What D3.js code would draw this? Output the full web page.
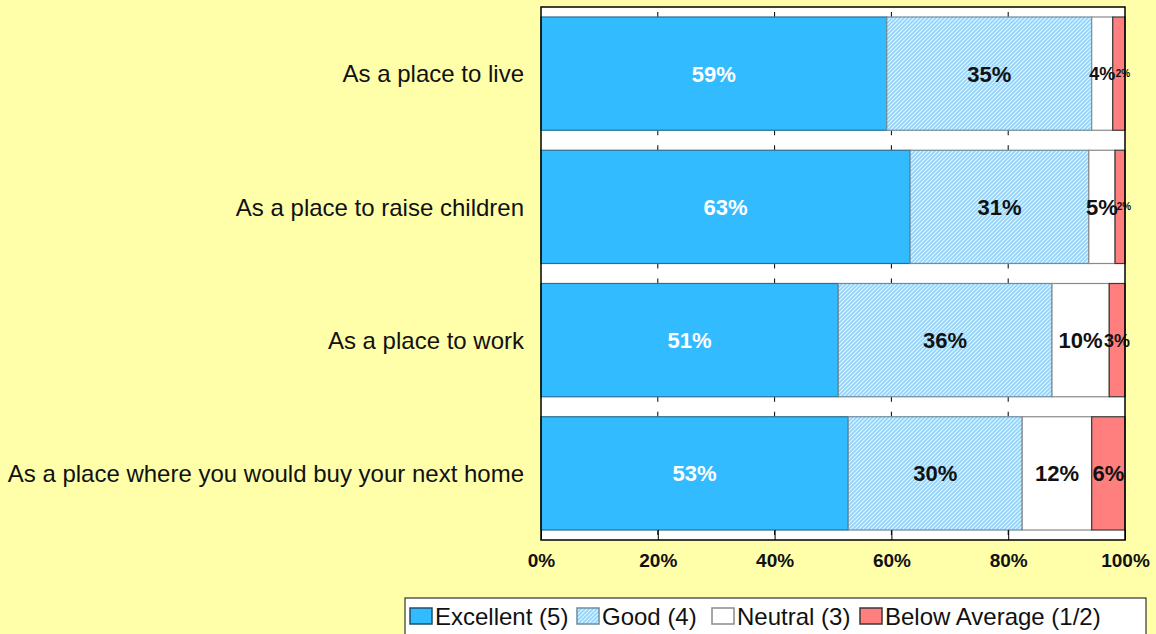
<!DOCTYPE html>
<html>
<head>
<meta charset="utf-8">
<script src="https://cdn.jsdelivr.net/npm/d3@7"></script>
<style>
  body { margin: 0; background: #FFFFAA; }
  svg { display: block; font-family: "Liberation Sans", Arial, sans-serif; }
</style>
</head>
<body>
<div id="chart-area"></div>
<script>
// Data
var categories = ["As a place to live", "As a place to raise children",
                  "As a place to work", "As a place where you would buy your next home"];
var seriesNames = ["Excellent (5)", "Good (4)", "Neutral (3)", "Below Average (1/2)"];
var excellent = [59.2, 63.2, 50.9, 52.6];
var good      = [35.1, 30.6, 36.6, 29.8];
var neutral   = [3.6, 4.5, 9.8, 11.9];
var below     = [2.1, 1.7, 2.7, 5.7];
var labelsExcellent = ["59%", "63%", "51%", "53%"];
var labelsGood      = ["35%", "31%", "36%", "30%"];
var labelsNeutral   = ["4%", "5%", "10%", "12%"];
var labelsBelow     = ["2%", "2%", "3%", "6%"];
var xTicks = [0, 20, 40, 60, 80, 100];

var width = 1156, height = 634;
var plot = { left: 541, right: 1125, top: 7, bottom: 540 };

var svg = d3.select("#chart-area")
    .append("svg")
    .attr("width", width)
    .attr("height", height);

svg.append("rect")
    .attr("width", width).attr("height", height)
    .attr("fill", "#FFFFAA");

// hatch for "Good"
var defs = svg.append("defs");
var pat = defs.append("pattern")
    .attr("id", "hatch")
    .attr("patternUnits", "userSpaceOnUse")
    .attr("width", 4).attr("height", 4);
pat.append("rect").attr("width", 4).attr("height", 4).attr("fill", "#93D3F8");
pat.append("path")
    .attr("d", "M-1,1 l2,-2 M0,4 l4,-4 M3,5 l2,-2")
    .attr("stroke", "#E4F5FF").attr("stroke-width", 1.2);

var colors = ["#33BBFF", "url(#hatch)", "#FFFFFF", "#FF7F7F"];
var strokes = ["#2B6E92", "#6F8C9C", "#8A8A8A", "#3A3A3A"];
var textColors = ["#FFFFFF", "#111111", "#111111", "#111111"];

// Scales
var x = d3.scaleLinear().domain([0, 100]).range([plot.left, plot.right]);
var y = d3.scaleBand()
    .domain(categories)
    .range([plot.top, plot.bottom])
    .paddingInner(0.15)
    .paddingOuter(0.075);

// plot area
svg.append("rect")
    .attr("x", plot.left).attr("y", plot.top)
    .attr("width", plot.right - plot.left)
    .attr("height", plot.bottom - plot.top)
    .attr("fill", "#FFFFFF");

// short tick marks in the gaps between bars
xTicks.slice(1, -1).forEach(function(t) {
    categories.forEach(function(c) {
        svg.append("line")
            .attr("x1", x(t)).attr("x2", x(t))
            .attr("y1", y(c) - 5).attr("y2", y(c))
            .attr("stroke", "#000");
        svg.append("line")
            .attr("x1", x(t)).attr("x2", x(t))
            .attr("y1", y(c) + y.bandwidth()).attr("y2", y(c) + y.bandwidth() + 5)
            .attr("stroke", "#000");
    });
});

// stack the series
var allSeries = [excellent, good, neutral, below];
var allLabels = [labelsExcellent, labelsGood, labelsNeutral, labelsBelow];
var rows = categories.map(function(c, i) {
    var start = 0;
    return allSeries.map(function(s, k) {
        var seg = { cat: c, k: k, v: s[i], x0: start, x1: start + s[i], label: allLabels[k][i] };
        start += s[i];
        return seg;
    });
});
var segs = d3.merge(rows);

svg.selectAll("rect.seg")
    .data(segs)
    .enter()
    .append("rect")
    .attr("class", "seg")
    .attr("x", function(d) { return x(d.x0); })
    .attr("y", function(d) { return y(d.cat); })
    .attr("width", function(d) { return x(d.x1) - x(d.x0); })
    .attr("height", y.bandwidth())
    .attr("fill", function(d) { return colors[d.k]; })
    .attr("stroke", function(d) { return strokes[d.k]; })
    .attr("stroke-width", 1.2);

// value labels (tiny ones nudged right so they don't cover the neighbour)
svg.selectAll("text.val")
    .data(segs)
    .enter()
    .append("text")
    .attr("class", "val")
    .attr("x", function(d) { return x((d.x0 + d.x1) / 2) + (d.v < 2.5 ? 4 : 0); })
    .attr("y", function(d) { return y(d.cat) + y.bandwidth() / 2; })
    .attr("dy", "0.36em")
    .attr("text-anchor", "middle")
    .attr("font-weight", "bold")
    .attr("font-size", function(d) { return d.v < 2.5 ? "10px" : (d.v < 4 ? "18px" : "22px"); })
    .attr("fill", function(d) { return textColors[d.k]; })
    .text(function(d) { return d.label; });

// plot border
svg.append("rect")
    .attr("x", plot.left).attr("y", plot.top)
    .attr("width", plot.right - plot.left)
    .attr("height", plot.bottom - plot.top)
    .attr("fill", "none")
    .attr("stroke", "#000")
    .attr("stroke-width", 1.5);

// X axis
var xAxisCall = d3.axisBottom(x)
    .tickValues(xTicks)
    .tickSize(-10)
    .tickPadding(14)
    .tickFormat(function(d) { return d + "%"; });
var xAxis = svg.append("g")
    .attr("transform", "translate(0," + plot.bottom + ")")
    .call(xAxisCall);
xAxis.select(".domain").remove();
xAxis.selectAll("line").attr("stroke", "#000");
xAxis.selectAll("text")
    .attr("font-family", "'Liberation Sans', Arial, sans-serif")
    .attr("font-size", "19px")
    .attr("font-weight", "bold")
    .attr("fill", "#111");

// category labels
svg.selectAll("text.cat")
    .data(categories)
    .enter()
    .append("text")
    .attr("class", "cat")
    .attr("x", 524)
    .attr("y", function(d) { return y(d) + y.bandwidth() / 2; })
    .attr("dy", "0.36em")
    .attr("text-anchor", "end")
    .attr("font-size", "24px")
    .attr("fill", "#111")
    .text(function(d) { return d; });

// Legend
var legend = svg.append("g");
legend.append("rect")
    .attr("x", 405).attr("y", 598)
    .attr("width", 741).attr("height", 50)
    .attr("fill", "#FFFFFF")
    .attr("stroke", "#333")
    .attr("stroke-width", 1.2);
var legendX = [410, 577, 712, 860];
seriesNames.forEach(function(name, k) {
    legend.append("rect")
        .attr("x", legendX[k]).attr("y", 608)
        .attr("width", 22).attr("height", 16)
        .attr("fill", colors[k])
        .attr("stroke", k == 0 ? "#1f4f6a" : strokes[k])
        .attr("stroke-width", 1.5);
    legend.append("text")
        .attr("x", legendX[k] + 25).attr("y", 625)
        .attr("font-size", "24px")
        .attr("fill", "#111")
        .text(name);
});
</script>
</body>
</html>
